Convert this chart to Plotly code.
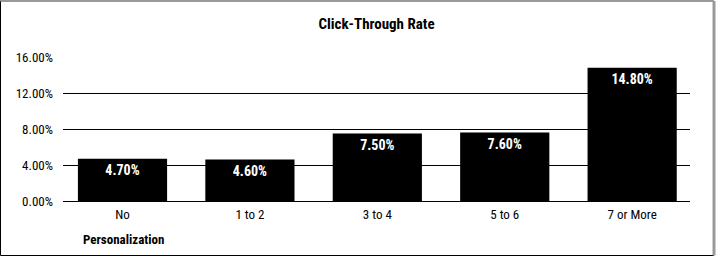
import plotly.graph_objects as go

categories = ["No", "1 to 2", "3 to 4", "5 to 6", "7 or More"]
ctr_values = [4.70, 4.60, 7.50, 7.60, 14.80]
bar_labels = ["4.70%", "4.60%", "7.50%", "7.60%", "14.80%"]
y_tick_vals = [0, 4, 8, 12, 16]
y_tick_text = ["0.00%", "4.00%", "8.00%", "12.00%", "16.00%"]

FONT = "Liberation Sans Narrow, Arial Narrow, Roboto Condensed, Liberation Sans, sans-serif"

W, H = 716, 258
L, R, T, B = 63, 26, 57, 57
pw, ph = W - L - R, H - T - B


def px(x):
    return (x - L) / pw


def py(y):
    return (H - B - y) / ph


fig = go.Figure(
    go.Bar(
        x=list(range(len(categories))),
        y=ctr_values,
        text=bar_labels,
        textposition="inside",
        insidetextanchor="end",
        textangle=0,
        textfont=dict(family=FONT, size=14, color="white", weight="bold"),
        marker=dict(color="black", line=dict(width=0)),
        width=0.70,
        hoverinfo="skip",
    )
)

fig.update_layout(
    width=W,
    height=H,
    margin=dict(l=L, r=R, t=T, b=B, pad=0),
    paper_bgcolor="white",
    plot_bgcolor="white",
    showlegend=False,
    font=dict(family=FONT, size=13, color="black"),
    uniformtext=dict(minsize=14, mode="show"),
    title=dict(
        text="<b>Click-Through Rate</b>",
        x=0.5,
        xref="paper",
        xanchor="center",
        y=1 - 24 / H,
        yref="container",
        yanchor="middle",
        font=dict(family=FONT, size=15, color="black"),
    ),
    xaxis=dict(
        tickmode="array",
        tickvals=list(range(len(categories))),
        ticktext=categories,
        range=[-0.467, 4.454],
        showgrid=False,
        zeroline=False,
        showline=False,
        ticks="",
        ticklabelstandoff=4,
        tickfont=dict(family=FONT, size=13, color="black"),
    ),
    yaxis=dict(
        range=[0, 16],
        tickmode="array",
        tickvals=y_tick_vals,
        ticktext=y_tick_text,
        showgrid=True,
        gridcolor="black",
        gridwidth=1,
        zeroline=True,
        zerolinecolor="black",
        zerolinewidth=1,
        showline=False,
        ticks="",
        ticklabelstandoff=9,
        tickfont=dict(family=FONT, size=13, color="black"),
    ),
    annotations=[
        dict(
            text="<b>Personalization</b>",
            xref="paper",
            yref="paper",
            x=px(81),
            y=py(239),
            xanchor="left",
            yanchor="middle",
            showarrow=False,
            font=dict(family=FONT, size=13, color="black"),
        )
    ],
    shapes=[
        dict(type="line", xref="paper", yref="paper", x0=px(0.5), x1=px(0.5), y0=py(0.5), y1=py(255.5),
             line=dict(color="black", width=1)),
        dict(type="line", xref="paper", yref="paper", x0=px(0.5), x1=px(714), y0=py(255.5), y1=py(255.5),
             line=dict(color="black", width=1)),
        dict(type="line", xref="paper", yref="paper", x0=px(0.5), x1=px(714), y0=py(1), y1=py(1),
             line=dict(color="#9a9a9a", width=2)),
        dict(type="line", xref="paper", yref="paper", x0=px(714), x1=px(714), y0=py(1), y1=py(255.5),
             line=dict(color="#9a9a9a", width=3)),
    ],
)

fig.write_html("out.html")
